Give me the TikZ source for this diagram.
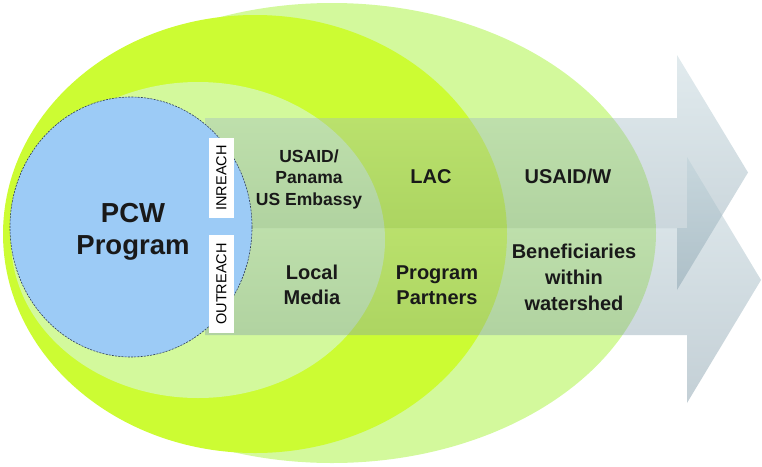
\documentclass[tikz,border=0pt]{standalone}
\usepackage{fontspec}
\setmainfont{Liberation Sans}
\usepackage{tikz}
\usetikzlibrary{positioning, calc}
\definecolor{palegreen}{HTML}{D3F99C}
\definecolor{limeyellow}{HTML}{CCFC33}
\definecolor{coreblue}{HTML}{9CCBF6}
\definecolor{coreline}{HTML}{2F3E5A}
\definecolor{flowtop}{HTML}{B4CCD4}
\definecolor{flowbottom}{HTML}{6A8898}
\newcommand{\setfs}[2]{\fontsize{#1}{#2}\selectfont}

\tikzset{
  flow/.style={top color=flowtop, bottom color=flowbottom, opacity=0.4, draw=none},
  tagbox/.style={fill=white, rotate=90, inner sep=0pt, minimum height=25pt, font=\setfs{14.5}{14.5}},
  ringtext/.style={align=center, text=black!90, font=\bfseries\setfs{20}{25}}
}

\begin{document}
\begin{tikzpicture}[x=1pt, y=-1pt]
  \useasboundingbox (0,0) rectangle (762,466);

  % Rings of stakeholders
  \fill[palegreen] (332,233) ellipse[x radius=324, y radius=230];
  \fill[limeyellow] (255,234) ellipse[x radius=252, y radius=219];
  \fill[palegreen] (198,240) ellipse[x radius=187, y radius=158];

  % Two channel arrows
  \foreach \ya/\yb/\headx/\headup/\headdown/\tipx in {118/228/677/55/290/748, 228/335/687/157/403/761} {
    \shade[flow] (205,\ya) -- (\headx,\ya) -- (\headx,\headup) -- (\tipx,{(\headup+\headdown)/2})
      -- (\headx,\headdown) -- (\headx,\yb) -- (205,\yb) -- cycle;
  }

  % Programme core
  \filldraw[fill=coreblue, draw=coreline, dashed, dash pattern=on 2pt off 1.2pt, line width=0.6pt]
    (131,227) ellipse[x radius=121, y radius=130];
  \node[ringtext, font=\bfseries\setfs{27.5}{32}] (core) at (133,232) {PCW\\Program};

  % Channel tags
  \node[tagbox, minimum width=80pt] (inreach) at (221.5,178) {INREACH};
  \node[tagbox, minimum width=98pt] (outreach) at (221.5,284) {OUTREACH};

  % Inreach ring labels
  \node[ringtext, font=\bfseries\setfs{17.5}{21.5}] (panama) at (309,179) {USAID/\\Panama\\US Embassy};
  \node[ringtext, anchor=base] (lac) at (431,183) {LAC};
  \node[ringtext, anchor=base] (usaidw) at (568,183) {USAID/W};

  % Outreach ring labels
  \node[ringtext] (media) at (312,285) {Local\\Media};
  \node[ringtext] (partners) at (437,285) {Program\\Partners};
  \node[ringtext, font=\bfseries\setfs{20}{26}] (benef) at (574,277) {Beneficiaries\\within\\watershed};
\end{tikzpicture}
\end{document}
